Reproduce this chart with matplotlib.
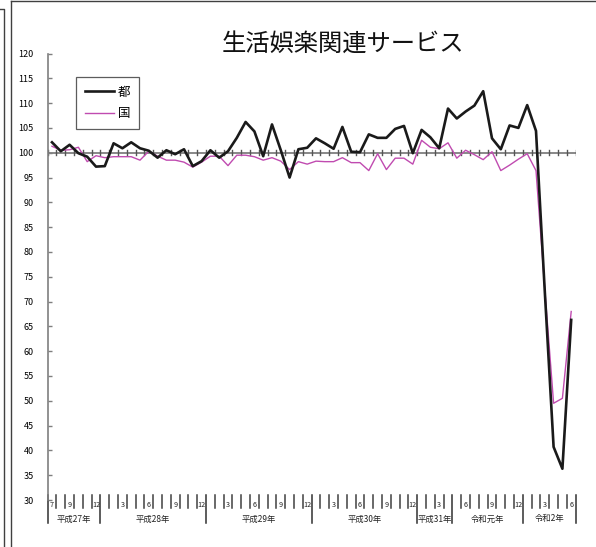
import matplotlib
matplotlib.use("Agg")
import matplotlib.pyplot as plt
import matplotlib.transforms as mtransforms
from matplotlib.lines import Line2D
import numpy as np

plt.rcParams['font.family'] = ['Noto Sans CJK JP', 'DejaVu Sans']

# ---------------- data ----------------
title = "生活娯楽関連サービス"
series_names = ["都", "国"]

tokyo = [102.1, 100.3, 101.6, 99.9, 99.2, 97.2, 97.3, 101.9, 100.9, 102.1,
         100.9, 100.4, 99.0, 100.5, 99.7, 100.7, 97.3, 98.3, 100.5, 99.0,
         100.3, 103.0, 106.2, 104.3, 99.3, 105.7, 100.5, 95.0, 100.7, 101.0,
         102.9, 101.9, 100.8, 105.2, 100.2, 100.1, 103.7, 103.0, 103.0, 104.8,
         105.4, 99.9, 104.6, 103.1, 100.9, 108.9, 106.9, 108.3, 109.5, 112.4,
         102.9, 100.7, 105.5, 105.0, 109.6, 104.4, 72.0, 40.7, 36.3, 66.3]

national = [101.3, 100.5, 100.6, 101.1, 98.2, 99.4, 99.0, 99.2, 99.2, 99.2,
            98.5, 100.3, 99.3, 98.5, 98.5, 98.1, 97.1, 98.1, 99.3, 99.3,
            97.4, 99.5, 99.5, 99.2, 98.5, 99.0, 98.3, 96.6, 98.2, 97.7,
            98.3, 98.2, 98.2, 99.0, 98.0, 98.0, 96.4, 99.8, 96.6, 98.9,
            98.9, 97.7, 102.5, 101.1, 100.8, 102.0, 98.9, 100.5, 99.6, 98.6,
            100.2, 96.4, 97.5, 98.7, 99.8, 96.4, 72.5, 49.5, 50.5, 68.0]

months_first = ["7", "", "9", "", "", "12"]
months_year = ["", "", "3", "", "", "6", "", "", "9", "", "", "12"]
months_last = ["", "", "3", "", "", "6"]
month_labels = months_first + months_year * 4 + months_last

year_labels = ["平成27年", "平成28年", "平成29年", "平成30年", "平成31年", "令和元年", "令和2年"]
year_spans = [6, 12, 12, 12, 4, 8, 6]

y_ticks = list(range(30, 121, 5))

# ---------------- figure ----------------
W, H = 596, 547
fig = plt.figure(figsize=(W / 100, H / 100), dpi=100)

# outer frame lines (figure pixels)
def fig_line(xs, ys, **kw):
    fig.add_artist(Line2D([x / W for x in xs], [1 - y / H for y in ys],
                          transform=fig.transFigure, **kw))

fig_line([0, 4, 4], [9, 9, 547], color="#404040", lw=1.0)
fig_line([11, 11], [1, 547], color="#404040", lw=1.0)
fig_line([11, 596], [1, 1], color="#404040", lw=1.0)

x0, x1 = 47.6, 575.6
ytop, ybot = 53.5, 500.0
ax = fig.add_axes([x0 / W, (H - ybot) / H, (x1 - x0) / W, (ybot - ytop) / H])

x = np.arange(len(tokyo))
gray = "#7f7f7f"

# reference line at 100 with cross ticks
ax.axhline(100, color=gray, lw=1.3, zorder=1)
for b in np.arange(len(tokyo) + 1) - 0.5:
    ax.plot([b, b], [99.45, 100.55], color="#555555", lw=1.0, zorder=1)

l1, = ax.plot(x, tokyo, color="#1a1a1a", lw=1.9, zorder=3, label=series_names[0])
l2, = ax.plot(x, national, color="#c04bb0", lw=1.0, zorder=2, label=series_names[1])

ax.set_xlim(-0.5, len(tokyo) - 0.5)
ax.set_ylim(30, 120)
ax.set_yticks(y_ticks)
ax.set_yticklabels([str(v) for v in y_ticks])
ax.tick_params(axis="y", direction="in", length=3, width=1.0, color=gray,
               labelsize=6.5, pad=10)
ax.set_xticks([])
for s in ["top", "right", "bottom"]:
    ax.spines[s].set_visible(False)
ax.spines["left"].set_color(gray)
ax.spines["left"].set_linewidth(1.2)
ax.patch.set_alpha(0)

# category axis below
blend = mtransforms.blended_transform_factory(ax.transData, ax.transAxes)
hpx = ybot - ytop
t_top = 5 / hpx
t_short = -8 / hpx
t_long = -23 / hpx
bounds = np.cumsum([0] + year_spans) - 0.5
for b in np.arange(len(tokyo) + 1) - 0.5:
    is_year = np.any(np.isclose(b, bounds))
    ax.plot([b, b], [t_top, t_long if is_year else t_short], transform=blend,
            color="#303030" if is_year else "#404040", lw=1.1, clip_on=False)
for i, lab in enumerate(month_labels):
    if lab:
        ax.text(i, -5 / hpx, lab, transform=blend, ha="center", va="center",
                fontsize=5.2, color="#222222")
for k, lab in enumerate(year_labels):
    c = (bounds[k] + bounds[k + 1]) / 2
    ax.text(c, -19 / hpx, lab, transform=blend, ha="center", va="center",
            fontsize=6, color="#222222")

# title
fig.text(343 / W, 1 - 44 / H, title, ha="center", va="center", fontsize=17.5,
         color="#111111")

# legend
leg = ax.legend(handles=[l1, l2], loc="upper left",
                bbox_to_anchor=(76 / W, 1 - 77 / H), bbox_transform=fig.transFigure,
                borderaxespad=0, fontsize=9, frameon=True, fancybox=False,
                edgecolor="#333333", handlelength=2.3, handletextpad=0.35,
                borderpad=0.7, labelspacing=0.7)
leg.get_frame().set_linewidth(0.9)

fig.savefig("out.png", dpi=100)
